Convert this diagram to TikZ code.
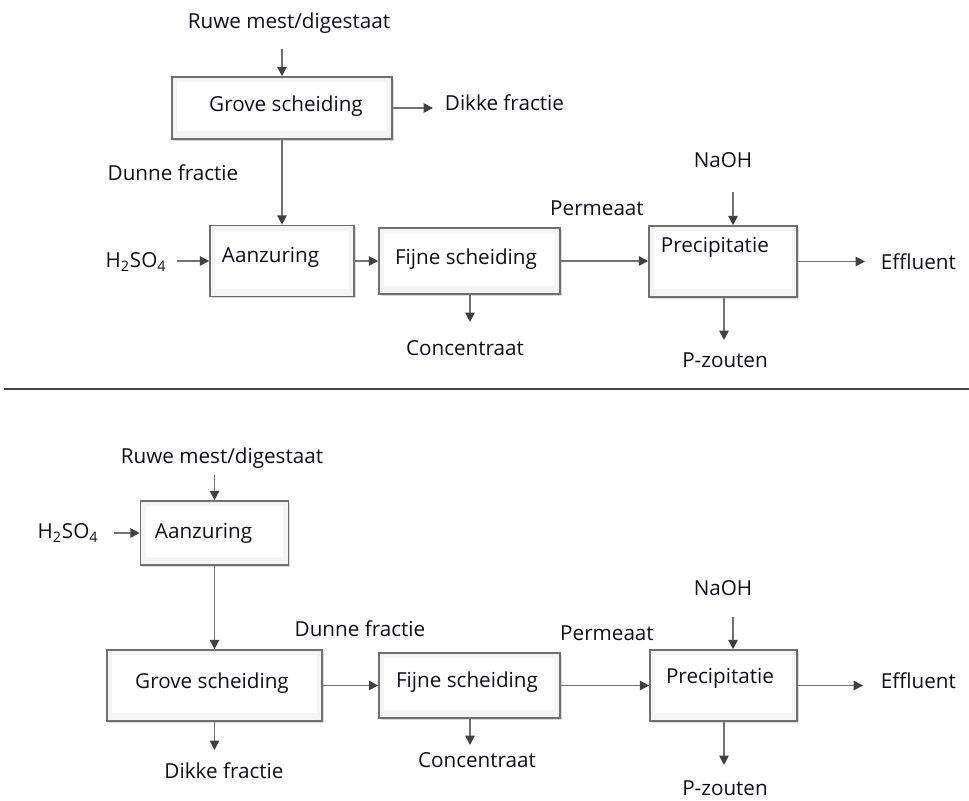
\documentclass[tikz,border=0pt]{standalone}
\usepackage{fontspec}
\setmainfont{Open Sans}
\usetikzlibrary{arrows.meta,shadows}
\definecolor{boxline}{RGB}{112,112,112}
\definecolor{flowcol}{RGB}{115,115,115}
\definecolor{tipcol}{RGB}{65,65,65}
\definecolor{txtcol}{RGB}{15,15,25}

\begin{document}
\begin{tikzpicture}[x=0.75pt,y=-0.75pt,
  unit/.style={draw=boxline,line width=1.2pt,fill=gray!9,
    drop shadow={shadow xshift=1.2pt,shadow yshift=-1.2pt,opacity=.3,fill=gray},
    path picture={\fill[white] ([shift={(4pt,-4pt)}]path picture bounding box.north west)
      rectangle ([shift={(-4pt,6pt)}]path picture bounding box.south east);}},
  txt/.style={text=txtcol,font=\fontsize{15.5}{18}\selectfont,inner sep=2pt},
  flow/.style={draw=flowcol,line width=1.2pt,-{Triangle[length=7pt,width=7pt,color=tipcol]}}]
\useasboundingbox (0,0) rectangle (969,800);

% top: grove scheiding before aanzuring
\node[unit,minimum width=165pt,minimum height=46.5pt] (gs1) at (282,108) {};
\node[unit,minimum width=108pt,minimum height=53.25pt] (az1) at (282,261) {};
\node[unit,minimum width=135.75pt,minimum height=49.5pt] (fs1) at (469.5,261) {};
\node[unit,minimum width=111pt,minimum height=53.25pt] (pr1) at (723,261.5) {};
\node[txt] (gs1-l) at (286,106) {Grove scheiding};
\node[txt,anchor=west] (az1-l) at (219,257) {Aanzuring};
\node[txt] (fs1-l) at (466,259) {Fijne scheiding};
\node[txt,anchor=west] (pr1-l) at (658,247) {Precipitatie};

\node[txt] (rm1) at (289,23) {Ruwe mest/digestaat};
\node[txt,anchor=west] (dik1) at (442,103) {Dikke fractie};
\node[txt] (dun1) at (173,173) {Dunne fractie};
\node[txt] (acid1) at (136,262) {H\textsubscript{2}SO\textsubscript{4}};
\node[txt] (con1) at (465,348) {Concentraat};
\node[txt] (perm1) at (597,208) {Permeaat};
\node[txt] (naoh1) at (723,160) {NaOH};
\node[txt,anchor=west] (eff1) at (878,262) {Effluent};
\node[txt] (pz1) at (725,360) {P-zouten};

\coordinate (rm1-o) at (282,49);
\coordinate (dik1-i) at (433,108);
\coordinate (acid1-o) at (177,261);
\coordinate (con1-i) at (470,322);
\coordinate (naoh1-o) at (733,192);
\coordinate (eff1-i) at (865,262);
\coordinate (pz1-i) at (724,340);
\draw[flow] (rm1-o) -- (gs1.north);
\draw[flow] (gs1.east) -- (dik1-i);
\draw[flow] (gs1.south) -- (az1.north);
\draw[flow] (acid1-o) -- (az1.west);
\draw[flow] (az1.east) -- (fs1.west);
\draw[flow] (con1-i |- fs1.south) -- (con1-i);
\draw[flow] (fs1.east) -- (fs1.east -| pr1.west);
\draw[flow] (naoh1-o) -- (naoh1-o |- pr1.north);
\draw[flow] (pr1.east) -- (pr1.east -| eff1-i);
\draw[flow] (pz1-i |- pr1.south) -- (pz1-i);

% separation line
\coordinate (sep-a) at (4,389);
\coordinate (sep-b) at (969,389);
\draw[line width=1.8pt,black!72] (sep-a) -- (sep-b);

% bottom: aanzuring before grove scheiding
\node[unit,minimum width=111pt,minimum height=48pt] (az2) at (214.5,533) {};
\node[unit,minimum width=161.25pt,minimum height=53.25pt] (gs2) at (214.5,685.5) {};
\node[unit,minimum width=135.75pt,minimum height=48.75pt] (fs2) at (469.5,685.5) {};
\node[unit,minimum width=110.25pt,minimum height=53.25pt] (pr2) at (723.5,685.5) {};
\node[txt,anchor=west] (az2-l) at (152,533) {Aanzuring};
\node[txt] (gs2-l) at (212,683) {Grove scheiding};
\node[txt] (fs2-l) at (467,682) {Fijne scheiding};
\node[txt] (pr2-l) at (720,678) {Precipitatie};

\node[txt] (rm2) at (222,458) {Ruwe mest/digestaat};
\node[txt] (acid2) at (68,533) {H\textsubscript{2}SO\textsubscript{4}};
\node[txt] (dun2) at (360,629) {Dunne fractie};
\node[txt] (dik2) at (224,771) {Dikke fractie};
\node[txt] (con2) at (477,760) {Concentraat};
\node[txt] (perm2) at (607,633) {Permeaat};
\node[txt] (naoh2) at (723,588) {NaOH};
\node[txt,anchor=west] (eff2) at (878,681) {Effluent};
\node[txt] (pz2) at (725,788) {P-zouten};

\coordinate (rm2-o) at (214.5,475);
\coordinate (acid2-o) at (114,533);
\coordinate (dik2-i) at (214.5,750);
\coordinate (con2-i) at (470,745);
\coordinate (naoh2-o) at (733,617);
\coordinate (eff2-i) at (863,686);
\coordinate (pz2-i) at (724,765);
\draw[flow] (rm2-o) -- (az2.north);
\draw[flow] (acid2-o) -- (az2.west);
\draw[flow] (az2.south) -- (gs2.north);
\draw[flow] (gs2.south) -- (dik2-i);
\draw[flow] (gs2.east) -- (fs2.west);
\draw[flow] (con2-i |- fs2.south) -- (con2-i);
\draw[flow] (fs2.east) -- (pr2.west);
\draw[flow] (naoh2-o) -- (naoh2-o |- pr2.north);
\draw[flow] (pr2.east) -- (pr2.east -| eff2-i);
\draw[flow] (pz2-i |- pr2.south) -- (pz2-i);
\end{tikzpicture}
\end{document}
